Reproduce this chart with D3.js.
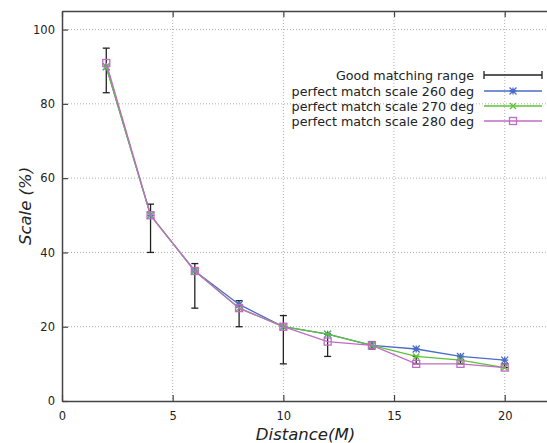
<!DOCTYPE html>
<html>
<head>
<meta charset="utf-8">
<script src="https://cdn.jsdelivr.net/npm/d3@7"></script>
<style>
  body { margin: 0; background: #fff; }
  text { font-family: "DejaVu Sans", sans-serif; fill: #222; }
</style>
</head>
<body>
<div id="vis"></div>
<script>
// distances (M)
var distances = [2, 4, 6, 8, 10, 12, 14, 16, 18, 20];
// scale (%) for each rotation
var scale260 = [90, 50, 35, 26, 20, 18, 15, 14, 12, 11];
var scale270 = [90, 50, 35, 25, 20, 18, 15, 12, 11, 9];
var scale280 = [91, 50, 35, 25, 20, 16, 15, 10, 10, 9];
// good matching range (low / high)
var rangeLow  = [83, 40, 25, 20, 10, 12, 14, 10, 10, 9];
var rangeHigh = [95, 53, 37, 27, 23, 18, 16, 12, 12, 10];
// ticks
var xTicks = [0, 5, 10, 15, 20];
var yTicks = [0, 20, 40, 60, 80, 100];

var W = 547, H = 443;
// plot box (note: "top" is a reserved window property, so use other names)
var pLeft = 62, pRight = 549, pTop = 11, pBottom = 401;

var x = d3.scaleLinear().domain([0, 22]).range([pLeft, pRight]);
var y = d3.scaleLinear().domain([0, 105]).range([pBottom, pTop]);

var svg = d3.select("#vis").append("svg")
    .attr("width", W)
    .attr("height", H);

// grid
svg.append("g").selectAll("line")
  .data(xTicks.filter(function(d){ return d > 0; }))
  .enter().append("line")
    .attr("x1", function(d){ return x(d); })
    .attr("x2", function(d){ return x(d); })
    .attr("y1", pTop).attr("y2", pBottom)
    .attr("stroke", "#b0b0b0")
    .attr("stroke-dasharray", "1,2");
svg.append("g").selectAll("line")
  .data(yTicks.filter(function(d){ return d > 0; }))
  .enter().append("line")
    .attr("x1", pLeft).attr("x2", pRight)
    .attr("y1", function(d){ return y(d); })
    .attr("y2", function(d){ return y(d); })
    .attr("stroke", "#b0b0b0")
    .attr("stroke-dasharray", "1,2");

// axes (ticks inside, mirrored on top)
var fs = "11.5px";
svg.append("g")
    .attr("transform", "translate(0," + pBottom + ")")
    .call(d3.axisBottom(x).tickValues(xTicks).tickSizeInner(-6).tickSizeOuter(0).tickPadding(11))
    .call(function(g){ g.selectAll("text").style("font-size", fs).attr("fill", "#222"); });
svg.append("g")
    .attr("transform", "translate(0," + pTop + ")")
    .call(d3.axisTop(x).tickValues(xTicks).tickSizeInner(-6).tickSizeOuter(0).tickFormat(""));
svg.append("g")
    .attr("transform", "translate(" + pLeft + ",0)")
    .call(d3.axisLeft(y).tickValues(yTicks).tickSizeInner(-6).tickSizeOuter(0).tickPadding(7))
    .call(function(g){ g.selectAll("text").style("font-size", fs).attr("fill", "#222"); });
svg.selectAll(".domain").attr("stroke", "#444").attr("stroke-width", 1.5);
svg.selectAll(".tick line").attr("stroke", "#444").attr("stroke-width", 1.2);

// axis titles
svg.append("text")
    .attr("x", (pLeft + pRight) / 2)
    .attr("y", 440)
    .attr("text-anchor", "middle")
    .style("font-size", "16.5px")
    .style("font-style", "italic")
    .text("Distance(M)");
svg.append("text")
    .attr("transform", "translate(31," + ((pTop + pBottom) / 2) + ") rotate(-90)")
    .attr("text-anchor", "middle")
    .style("font-size", "16.5px")
    .style("font-style", "italic")
    .text("Scale (%)");

// error bars
var eb = svg.append("g").attr("stroke", "#222").attr("stroke-width", 1.3);
distances.forEach(function(d, i){
  var cx = x(d);
  eb.append("line").attr("x1", cx).attr("x2", cx).attr("y1", y(rangeLow[i])).attr("y2", y(rangeHigh[i]));
  eb.append("line").attr("x1", cx - 3.5).attr("x2", cx + 3.5).attr("y1", y(rangeLow[i])).attr("y2", y(rangeLow[i]));
  eb.append("line").attr("x1", cx - 3.5).attr("x2", cx + 3.5).attr("y1", y(rangeHigh[i])).attr("y2", y(rangeHigh[i]));
});

// marker drawers
function star(g, cx, cy, c){
  var r = 3.5;
  g.append("path")
    .attr("d", "M" + (cx - r) + "," + cy + "H" + (cx + r) + "M" + cx + "," + (cy - r) + "V" + (cy + r) +
               "M" + (cx - r) + "," + (cy - r) + "L" + (cx + r) + "," + (cy + r) +
               "M" + (cx - r) + "," + (cy + r) + "L" + (cx + r) + "," + (cy - r))
    .attr("stroke", c).attr("stroke-width", 1.3).attr("fill", "none");
}
function cross(g, cx, cy, c){
  var r = 3;
  g.append("path")
    .attr("d", "M" + (cx - r) + "," + (cy - r) + "L" + (cx + r) + "," + (cy + r) +
               "M" + (cx - r) + "," + (cy + r) + "L" + (cx + r) + "," + (cy - r))
    .attr("stroke", c).attr("stroke-width", 1.3).attr("fill", "none");
}
function square(g, cx, cy, c){
  var r = 3.5;
  g.append("rect")
    .attr("x", cx - r).attr("y", cy - r).attr("width", 2 * r).attr("height", 2 * r)
    .attr("stroke", c).attr("stroke-width", 1.3).attr("fill", "none");
}

var series = [
  {name: "perfect match scale 260 deg", values: scale260, color: "#4a6cc8", mark: star},
  {name: "perfect match scale 270 deg", values: scale270, color: "#5cc433", mark: cross},
  {name: "perfect match scale 280 deg", values: scale280, color: "#c06cc4", mark: square}
];

var line = d3.line()
    .x(function(d){ return x(d[0]); })
    .y(function(d){ return y(d[1]); });

series.forEach(function(s){
  var g = svg.append("g");
  g.append("path")
    .datum(distances.map(function(d, i){ return [d, s.values[i]]; }))
    .attr("d", line)
    .attr("fill", "none")
    .attr("stroke", s.color)
    .attr("stroke-width", 1.3);
  distances.forEach(function(d, i){ s.mark(g, x(d), y(s.values[i]), s.color); });
});

// legend
var textX = 474, sx1 = 484, sx2 = 542;
var rows = [75, 91, 106, 121];
var lg = svg.append("g");
lg.append("text").attr("x", textX).attr("y", rows[0] + 4.5)
    .attr("text-anchor", "end").style("font-size", "12.7px").text("Good matching range");
lg.append("path")
    .attr("d", "M" + sx1 + "," + rows[0] + "H" + sx2 +
               "M" + sx1 + "," + (rows[0] - 4) + "V" + (rows[0] + 4) +
               "M" + sx2 + "," + (rows[0] - 4) + "V" + (rows[0] + 4))
    .attr("stroke", "#222").attr("stroke-width", 1.3).attr("fill", "none");
series.forEach(function(s, i){
  var yy = rows[i + 1];
  lg.append("text").attr("x", textX).attr("y", yy + 4.5)
      .attr("text-anchor", "end").style("font-size", "12.7px").text(s.name);
  lg.append("line").attr("x1", sx1).attr("x2", sx2).attr("y1", yy).attr("y2", yy)
      .attr("stroke", s.color).attr("stroke-width", 1.3);
  s.mark(lg, (sx1 + sx2) / 2, yy, s.color);
});
</script>
</body>
</html>
